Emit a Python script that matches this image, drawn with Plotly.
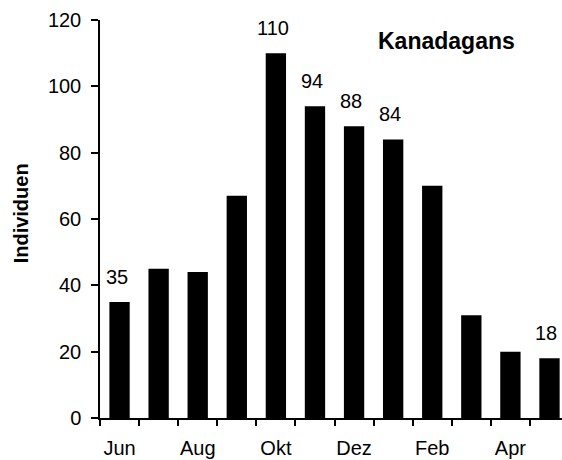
import plotly.graph_objects as go

months = ["Jun", "Jul", "Aug", "Sep", "Okt", "Nov", "Dez", "Jan", "Feb", "Mrz", "Apr", "Mai"]
tick_text = ["Jun", "", "Aug", "", "Okt", "", "Dez", "", "Feb", "", "Apr", ""]
counts = [35, 45, 44, 67, 110, 94, 88, 84, 70, 31, 20, 18]
labelled = ["Jun", "Okt", "Nov", "Dez", "Jan", "Mai"]

font = "Liberation Sans, Arial, sans-serif"

fig = go.Figure()
fig.add_trace(go.Bar(x=months, y=counts, marker=dict(color="black", line=dict(width=0)),
                     width=0.52, hoverinfo="skip", cliponaxis=False))

for m, v in zip(months, counts):
    if m in labelled:
        fig.add_annotation(x=m, y=v, text=str(v), showarrow=False, yanchor="bottom",
                           xanchor="center", yshift=12, xshift=-3,
                           font=dict(family=font, size=20, color="black"))

fig.add_annotation(xref="paper", yref="paper", x=0.749, y=0.947, text="<b>Kanadagans</b>",
                   xanchor="center", yanchor="middle",
                   showarrow=False, font=dict(family=font, size=23, color="black"))

fig.add_annotation(xref="paper", yref="paper", x=-0.172, y=0.513, text="<b>Individuen</b>",
                   textangle=-90, xanchor="center", yanchor="middle",
                   showarrow=False, font=dict(family=font, size=20, color="black"))

fig.update_layout(
    width=562, height=460,
    margin=dict(l=100, r=0, t=20, b=42),
    plot_bgcolor="white", paper_bgcolor="white",
    showlegend=False,
    font=dict(family=font, size=20, color="black"),
)
fig.update_xaxes(
    type="category", range=[-0.5, 11.32],
    tickvals=months, ticktext=tick_text, tickson="boundaries", tickangle=0,
    ticks="outside", ticklen=6, tickwidth=1.5, tickcolor="black",
    showline=True, linecolor="black", linewidth=1.5,
    showgrid=False, zeroline=False, automargin=False,
    ticklabelstandoff=11,
    tickfont=dict(family=font, size=20, color="black"),
)
fig.update_yaxes(
    range=[0, 120], tickvals=[0, 20, 40, 60, 80, 100, 120],
    ticks="outside", ticklen=7, tickwidth=1.5, tickcolor="black",
    showline=True, linecolor="black", linewidth=1.5,
    showgrid=False, zeroline=False, automargin=False,
    tickfont=dict(family=font, size=20, color="black"),
    ticklabelstandoff=6,
)

fig.write_html(
    "out.html",
    config={"displayModeBar": False},
    post_script=("document.body.style.margin='0';"
                 "document.documentElement.style.overflow='hidden';"
                 "document.body.style.overflow='hidden';"),
)
